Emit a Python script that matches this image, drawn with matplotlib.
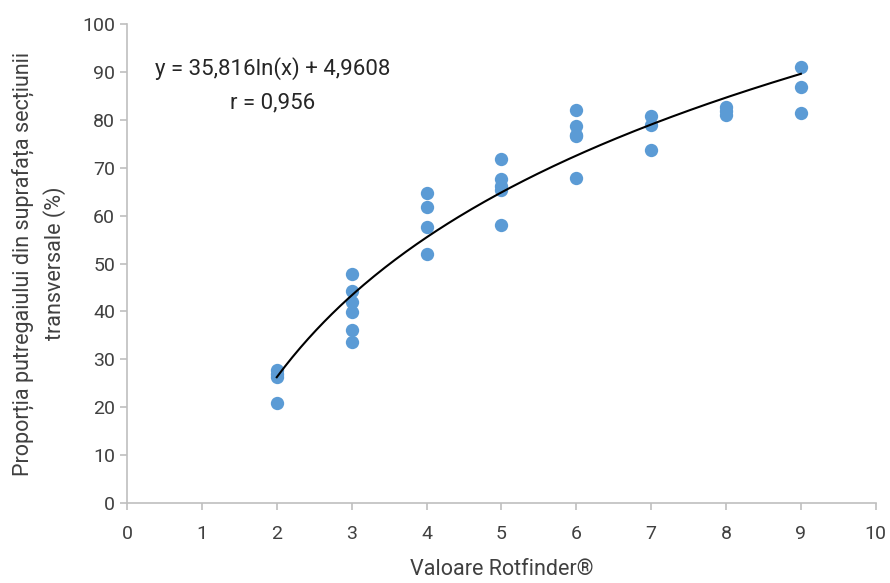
import matplotlib.pyplot as plt
import numpy as np

plt.rcParams['font.family'] = ['Roboto', 'DejaVu Sans']

# Rotfinder values and measured rot share (%)
x_vals = [2, 2, 2, 2,
          3, 3, 3, 3, 3, 3,
          4, 4, 4, 4,
          5, 5, 5, 5, 5,
          6, 6, 6, 6, 6,
          7, 7, 7,
          8, 8, 8,
          9, 9, 9]
y_vals = [27.8, 26.9, 26.3, 20.9,
          47.8, 44.3, 42.0, 39.9, 36.1, 33.6,
          64.7, 61.8, 57.6, 52.0,
          71.8, 67.6, 66.2, 65.3, 58.0,
          82.0, 78.7, 76.8, 76.6, 67.8,
          80.9, 78.9, 73.8,
          82.7, 81.9, 81.0,
          91.0, 86.8, 81.4]

# logarithmic trend line as drawn in the picture
trend_a = 42.1
trend_b = -2.9
trend_text = "y = 35,816ln(x) + 4,9608"
r_text = "r = 0,956"

fig = plt.figure(figsize=(8.9, 5.83), dpi=100)
ax = fig.add_axes([0.1427, 0.137, 0.8413, 0.8218])

ax.scatter(x_vals, y_vals, s=92, color='#5B9BD5', zorder=3, linewidths=0)

xt = np.linspace(min(x_vals), max(x_vals), 200)
ax.plot(xt, trend_a * np.log(xt) + trend_b, color='black', lw=1.5, zorder=4)

ax.set_xlim(0, 10)
ax.set_ylim(0, 100)
ax.set_xticks(range(0, 11))
ax.set_yticks(range(0, 101, 10))

for s in ['top', 'right']:
    ax.spines[s].set_visible(False)
for s in ['left', 'bottom']:
    ax.spines[s].set_color('#BFBFBF')
    ax.spines[s].set_linewidth(1.2)
ax.tick_params(colors='#BFBFBF', labelcolor='#404040', labelsize=14,
               length=5, width=1.2, direction='out')
ax.tick_params(axis='x', pad=11)

ax.set_xlabel("Valoare Rotfinder®", fontsize=15.5, color='#404040', labelpad=11)
ax.set_ylabel("Proporția putregaiului din suprafața secțiunii\ntransversale (%)",
              fontsize=15.5, color='#404040', labelpad=12, linespacing=1.5)

ax.text(1.94, 90.8, trend_text, fontsize=16, color='#262626', ha='center', va='center')
ax.text(1.94, 83.5, r_text, fontsize=16, color='#262626', ha='center', va='center')

fig.savefig('out.png', dpi=100)
